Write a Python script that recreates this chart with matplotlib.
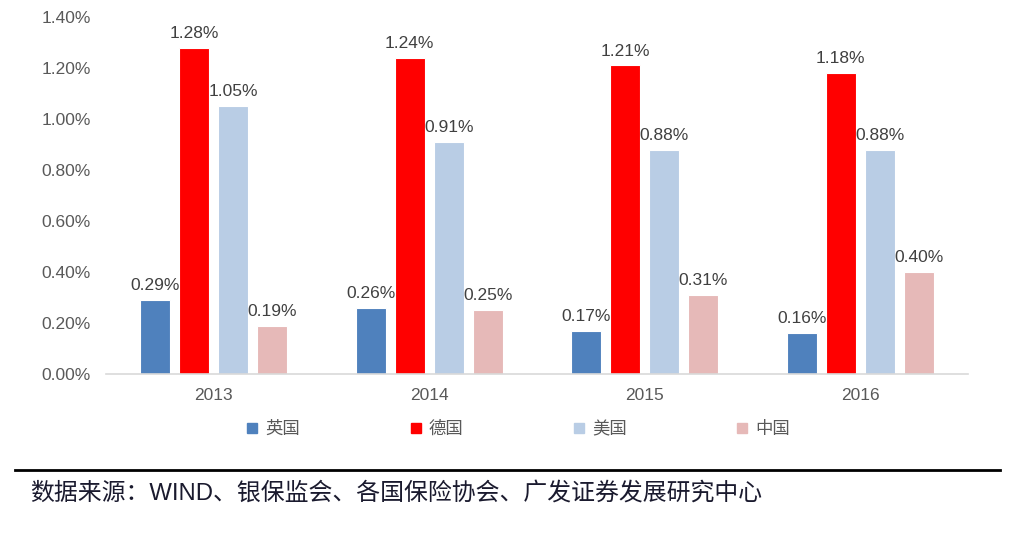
import numpy as np
import matplotlib
matplotlib.use('Agg')
import matplotlib.pyplot as plt
from matplotlib.lines import Line2D
from matplotlib.ticker import FuncFormatter

years = ['2013', '2014', '2015', '2016']
countries = ['英国', '德国', '美国', '中国']
uk = [0.29, 0.26, 0.17, 0.16]
de = [1.28, 1.24, 1.21, 1.18]
us = [1.05, 0.91, 0.88, 0.88]
cn = [0.19, 0.25, 0.31, 0.40]
colors = ['#4F81BD', '#FF0000', '#B9CDE5', '#E6B9B8']
source = '数据来源：WIND、银保监会、各国保险协会、广发证券发展研究中心'

plt.rcParams['font.family'] = ['Liberation Sans', 'Noto Sans CJK SC']

fig = plt.figure(figsize=(10.24, 5.43), dpi=100)
ax = fig.add_axes([0.1035, 0.3112, 0.8418, 0.6575])

x = np.arange(len(years))
width = 0.139
step = 0.181
for i, (vals, c) in enumerate(zip([uk, de, us, cn], colors)):
    bars = ax.bar(x + (i - 1.5) * step, vals, width, color=c,
                  edgecolor='white', linewidth=0.8, label=countries[i])
    ax.bar_label(bars, labels=['%.2f%%' % v for v in vals], padding=5,
                 fontsize=12.5, color='#404040')

ax.set_xlim(-0.5, 3.5)
ax.set_ylim(0, 1.4)
ax.set_yticks(np.arange(0, 1.41, 0.2))
ax.yaxis.set_major_formatter(FuncFormatter(lambda v, p: '%.2f%%' % v))
ax.set_xticks(x)
ax.set_xticklabels(years)
ax.tick_params(axis='y', length=0, pad=11, labelsize=12.5, labelcolor='#595959')
ax.tick_params(axis='x', length=0, pad=10, labelsize=12.5, labelcolor='#595959')
for s in ['top', 'right', 'left']:
    ax.spines[s].set_visible(False)
ax.spines['bottom'].set_color('#D9D9D9')
ax.spines['bottom'].set_linewidth(1.2)

handles = [Line2D([], [], marker='s', linestyle='none', markersize=7,
                  color=c) for c in colors]
fig.legend(handles, countries, loc='center', ncol=4,
           bbox_to_anchor=(0.506, 0.21), frameon=False, fontsize=12.5,
           handlelength=0.7, handletextpad=0.4, columnspacing=6.3,
           labelcolor='#595959')

fig.add_artist(Line2D([15 / 1024, 1000 / 1024], [1 - 470 / 543] * 2,
                      color='black', linewidth=2))
fig.text(30 / 1024, 1 - 493 / 543, source, fontsize=17.2, color='#1a1a2e',
         va='center', ha='left')

fig.savefig('out.png', dpi=100)
